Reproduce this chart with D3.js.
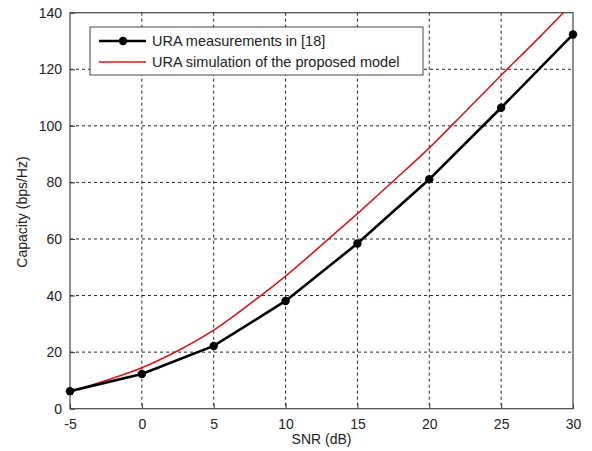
<!DOCTYPE html>
<html>
<head>
<meta charset="utf-8">
<script src="https://cdn.jsdelivr.net/npm/d3@7"></script>
<style>
  body { margin: 0; background: #fff; }
  text { font-family: "Liberation Sans", Arial, sans-serif; fill: #222; }
</style>
</head>
<body>
<div id="chart"></div>
<script>
// measured points (black) and simulated curve (red)
var snrMeas = [-5, 0, 5, 10, 15, 20, 25, 30];
var capMeas = [6.2, 12.3, 22.2, 38.1, 58.4, 81.1, 106.4, 132.3];
var snrSim = [-5, -2.5, 0, 2.5, 5, 7.5, 10, 12.5, 15, 17.5, 20, 22.5, 25, 27.5, 30];
var capSim = [6, 10, 14.5, 20.5, 27.8, 37, 46.9, 57.8, 69, 80.5, 92.2, 105, 117.9, 130.5, 143.5];
var xTicks = [-5, 0, 5, 10, 15, 20, 25, 30];
var yTicks = [0, 20, 40, 60, 80, 100, 120, 140];
var legendLabels = ["URA measurements in [18]", "URA simulation of the proposed model"];

var svgWidth = 592, svgHeight = 451;
var margin = {top: 12.7, right: 19, bottom: 42.3, left: 70};
var width = svgWidth - margin.left - margin.right;
var height = svgHeight - margin.top - margin.bottom;

var svg = d3.select("#chart").append("svg")
  .attr("width", svgWidth)
  .attr("height", svgHeight);

var chartGroup = svg.append("g")
  .attr("transform", `translate(${margin.left}, ${margin.top})`);

var x = d3.scaleLinear().domain([-5, 30]).range([0, width]);
var y = d3.scaleLinear().domain([0, 140]).range([height, 0]);

// grid
chartGroup.append("g").selectAll("line.vg")
  .data(xTicks.slice(1, -1)).enter().append("line")
  .attr("x1", d => x(d)).attr("x2", d => x(d))
  .attr("y1", 0).attr("y2", height)
  .attr("stroke", "#222").attr("stroke-width", 1)
  .attr("stroke-dasharray", "3,3");
chartGroup.append("g").selectAll("line.hg")
  .data(yTicks.slice(1, -1)).enter().append("line")
  .attr("x1", 0).attr("x2", width)
  .attr("y1", d => y(d)).attr("y2", d => y(d))
  .attr("stroke", "#222").attr("stroke-width", 1)
  .attr("stroke-dasharray", "3,3");

// axes
var bottomAxis = d3.axisBottom(x).tickValues(xTicks).tickSize(-5).tickPadding(10)
  .tickFormat(d => String(d));
var leftAxis = d3.axisLeft(y).tickValues(yTicks).tickSize(-5).tickPadding(8);
var gx = chartGroup.append("g")
  .attr("transform", `translate(0, ${height})`)
  .call(bottomAxis);
var gy = chartGroup.append("g").call(leftAxis);
[gx, gy].forEach(function(g) {
  g.select(".domain").remove();
  g.selectAll("line").attr("stroke", "#333");
  g.selectAll("text").style("font-size", "14px").attr("fill", "#222");
});

// frame
chartGroup.append("rect")
  .attr("width", width).attr("height", height)
  .attr("fill", "none").attr("stroke", "#444").attr("stroke-width", 1.2);

svg.append("clipPath").attr("id", "plotclip")
  .append("rect").attr("width", width).attr("height", height);

var lines = chartGroup.append("g").attr("clip-path", "url(#plotclip)");

var simData = snrSim.map((s, i) => ({x: s, y: capSim[i]}));
var measData = snrMeas.map((s, i) => ({x: s, y: capMeas[i]}));

lines.append("path")
  .datum(simData)
  .attr("d", d3.line().x(d => x(d.x)).y(d => y(d.y)).curve(d3.curveMonotoneX))
  .attr("fill", "none").attr("stroke", "#d41a1a").attr("stroke-width", 1.6);

lines.append("path")
  .datum(measData)
  .attr("d", d3.line().x(d => x(d.x)).y(d => y(d.y)))
  .attr("fill", "none").attr("stroke", "#000").attr("stroke-width", 2.6);

chartGroup.selectAll("circle.m")
  .data(measData).enter().append("circle")
  .attr("cx", d => x(d.x)).attr("cy", d => y(d.y))
  .attr("r", 4.2).attr("fill", "#000");

// legend
var legend = svg.append("g").attr("transform", "translate(90, 27)");
legend.append("rect")
  .attr("width", 333).attr("height", 48)
  .attr("fill", "#fff").attr("stroke", "#444").attr("stroke-width", 1);
legend.append("line")
  .attr("x1", 9).attr("x2", 56).attr("y1", 14).attr("y2", 14)
  .attr("stroke", "#000").attr("stroke-width", 2.6);
legend.append("circle").attr("cx", 33).attr("cy", 14).attr("r", 4.2).attr("fill", "#000");
legend.append("line")
  .attr("x1", 9).attr("x2", 56).attr("y1", 35).attr("y2", 35)
  .attr("stroke", "#d41a1a").attr("stroke-width", 1.6);
legend.selectAll("text.lg")
  .data(legendLabels).enter().append("text")
  .attr("x", 62).attr("y", (d, i) => 19 + i * 21)
  .style("font-size", "14.5px")
  .text(d => d);

// axis titles
svg.append("text")
  .attr("x", margin.left + width / 2).attr("y", 444)
  .attr("text-anchor", "middle")
  .style("font-size", "14px")
  .text("SNR (dB)");
svg.append("text")
  .attr("transform", "translate(27, 212) rotate(-90)")
  .attr("text-anchor", "middle")
  .style("font-size", "14px")
  .text("Capacity (bps/Hz)");
</script>
</body>
</html>
